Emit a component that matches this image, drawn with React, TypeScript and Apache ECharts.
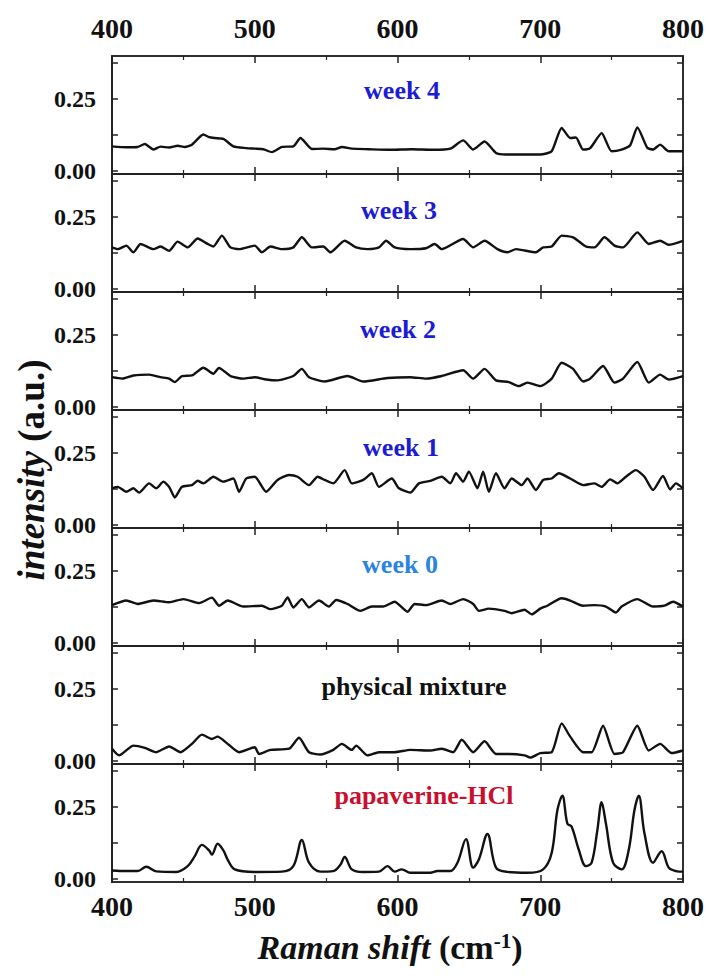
import React, { useEffect, useRef } from "react";
import * as echarts from "echarts";

const panelNames = ["week 4", "week 3", "week 2", "week 1", "week 0", "physical mixture", "papaverine-HCl"];
const panelColors = ["#1c1cd2", "#1c1cd2", "#1c1cd2", "#1c1cd2", "#2a84e0", "#111111", "#c8102e"];
const xTicks = [400, 500, 600, 700, 800];
const yTickLabels = [0, 0.25];
const yTickMarks = [0, 0.125, 0.25, 0.375];

const week4: number[][] = [[400,0.086],[410,0.083],[418,0.084],[423,0.094],[429,0.075],[434,0.085],[440,0.082],[446,0.088],[451,0.084],[456,0.092],[464,0.127],[468,0.118],[472,0.115],[478,0.112],[485,0.086],[494,0.08],[500,0.078],[506,0.076],[512,0.066],[519,0.084],[527,0.086],[532,0.115],[540,0.077],[548,0.078],[556,0.076],[561,0.084],[568,0.078],[580,0.076],[595,0.074],[610,0.076],[625,0.074],[637,0.078],[646,0.107],[653,0.075],[661,0.103],[669,0.063],[676,0.058],[690,0.058],[700,0.058],[708,0.069],[715,0.15],[721,0.115],[725,0.117],[730,0.075],[735,0.08],[743,0.132],[750,0.069],[757,0.075],[763,0.09],[768,0.152],[775,0.081],[779,0.075],[784,0.092],[790,0.069],[800,0.069]];
const week3: number[][] = [[400,0.145],[404,0.139],[410,0.151],[415,0.128],[420,0.157],[429,0.139],[434,0.148],[440,0.133],[446,0.165],[453,0.145],[460,0.176],[467,0.157],[471,0.148],[477,0.186],[483,0.145],[489,0.139],[500,0.151],[505,0.128],[511,0.148],[519,0.139],[527,0.145],[533,0.18],[540,0.145],[548,0.148],[553,0.128],[563,0.168],[571,0.145],[579,0.139],[587,0.145],[592,0.168],[598,0.145],[609,0.139],[620,0.142],[626,0.157],[631,0.139],[646,0.174],[653,0.145],[661,0.168],[670,0.139],[677,0.128],[683,0.139],[697,0.128],[702,0.145],[708,0.148],[715,0.186],[723,0.18],[732,0.148],[738,0.145],[745,0.18],[752,0.151],[758,0.145],[768,0.197],[776,0.157],[784,0.168],[790,0.154],[800,0.168]];
const week2: number[][] = [[400,0.104],[407,0.099],[415,0.11],[426,0.113],[434,0.104],[440,0.099],[444,0.087],[449,0.108],[456,0.11],[464,0.137],[471,0.116],[475,0.136],[483,0.108],[492,0.099],[500,0.104],[508,0.096],[516,0.093],[527,0.108],[533,0.133],[538,0.104],[549,0.089],[565,0.108],[576,0.089],[593,0.101],[609,0.104],[620,0.099],[631,0.108],[646,0.128],[653,0.099],[661,0.133],[669,0.093],[678,0.087],[685,0.073],[691,0.085],[700,0.073],[708,0.099],[715,0.154],[723,0.133],[730,0.089],[735,0.099],[744,0.143],[752,0.085],[758,0.099],[768,0.157],[776,0.085],[784,0.113],[790,0.096],[800,0.108]];
const week1: number[][] = [[400,0.128],[404,0.133],[410,0.116],[415,0.128],[419,0.113],[426,0.145],[431,0.128],[436,0.151],[440,0.133],[444,0.096],[449,0.133],[456,0.139],[460,0.154],[464,0.145],[471,0.168],[478,0.151],[485,0.162],[489,0.116],[494,0.162],[500,0.168],[508,0.116],[516,0.157],[524,0.174],[530,0.168],[538,0.139],[544,0.168],[549,0.157],[555,0.145],[563,0.191],[568,0.145],[576,0.157],[582,0.18],[587,0.133],[596,0.162],[601,0.128],[609,0.113],[615,0.145],[623,0.154],[631,0.168],[637,0.145],[641,0.18],[646,0.151],[650,0.186],[656,0.128],[660,0.186],[664,0.116],[669,0.18],[675,0.128],[680,0.162],[687,0.139],[691,0.162],[697,0.122],[702,0.157],[708,0.162],[713,0.18],[721,0.162],[730,0.139],[738,0.145],[743,0.133],[749,0.159],[754,0.145],[760,0.168],[767,0.191],[773,0.168],[779,0.122],[786,0.171],[791,0.124],[795,0.145],[800,0.128]];
const week0: number[][] = [[400,0.132],[410,0.148],[418,0.136],[429,0.148],[440,0.142],[450,0.153],[461,0.139],[470,0.158],[475,0.13],[481,0.148],[492,0.127],[505,0.13],[511,0.118],[519,0.13],[523,0.159],[527,0.124],[533,0.153],[538,0.124],[545,0.148],[552,0.127],[557,0.15],[565,0.136],[574,0.112],[582,0.127],[590,0.127],[598,0.144],[607,0.109],[612,0.136],[620,0.132],[631,0.148],[637,0.136],[646,0.153],[653,0.136],[657,0.112],[664,0.12],[675,0.112],[680,0.104],[689,0.116],[694,0.1],[700,0.12],[705,0.13],[715,0.156],[721,0.148],[730,0.13],[738,0.132],[746,0.127],[753,0.106],[757,0.127],[768,0.153],[779,0.127],[787,0.13],[793,0.144],[800,0.127]];
const physicalMixture: number[][] = [[400,0.043],[405,0.02],[415,0.054],[423,0.046],[431,0.031],[440,0.051],[448,0.031],[456,0.06],[463,0.092],[470,0.077],[474,0.085],[481,0.06],[489,0.031],[500,0.048],[503,0.025],[511,0.039],[524,0.043],[531,0.081],[538,0.031],[546,0.023],[555,0.039],[561,0.06],[568,0.039],[571,0.054],[579,0.02],[587,0.031],[598,0.031],[609,0.039],[623,0.037],[631,0.043],[639,0.031],[645,0.074],[653,0.031],[661,0.069],[669,0.025],[678,0.025],[689,0.02],[693,0.012],[700,0.028],[708,0.031],[715,0.131],[721,0.085],[730,0.031],[736,0.031],[744,0.123],[752,0.025],[758,0.031],[768,0.123],[776,0.037],[784,0.06],[792,0.028],[800,0.037]];
const papaverine: number[][] = [[400,0.03],[410,0.028],[418,0.028],[424,0.043],[431,0.027],[445,0.025],[453,0.045],[458,0.08],[463,0.119],[468,0.1],[470,0.085],[474,0.123],[478,0.1],[481,0.068],[486,0.034],[500,0.025],[519,0.026],[527,0.045],[533,0.136],[538,0.057],[546,0.026],[555,0.028],[560,0.05],[563,0.077],[568,0.034],[576,0.025],[587,0.026],[593,0.045],[598,0.026],[603,0.034],[609,0.022],[623,0.022],[628,0.028],[637,0.028],[642,0.057],[648,0.139],[653,0.04],[657,0.068],[663,0.157],[669,0.04],[677,0.025],[691,0.022],[702,0.034],[708,0.091],[712,0.239],[715.5,0.29],[719,0.193],[722,0.182],[727,0.102],[732,0.045],[736,0.057],[740,0.17],[743,0.267],[746,0.193],[751,0.057],[757,0.034],[762,0.102],[766,0.24],[769,0.29],[773,0.159],[779,0.057],[785,0.097],[790,0.04],[795,0.028],[800,0.026]];

const panelData = [week4, week3, week2, week1, week0, physicalMixture, papaverine];

const FONT = "Liberation Serif, Times New Roman, serif";
const LEFT = 112;
const WIDTH = 571;
const TOP = 56;
const PANEL_H = 118;
const labelOffsets = [34, 36, 37, 37, 36, 40, 31];
const labelX = [402, 399, 398, 401, 400, 414, 424];

export default function App() {
  const ref = useRef<HTMLDivElement>(null);
  useEffect(() => {
    if (!ref.current) return;
    const chart = echarts.init(ref.current, null, { renderer: "svg" });
    const grids: any[] = [];
    const xAxes: any[] = [];
    const yAxes: any[] = [];
    const series: any[] = [];
    const graphics: any[] = [];
    const lineCol = "#222";
    panelData.forEach((d, i) => {
      const top = TOP + i * PANEL_H;
      grids.push({ left: LEFT, width: WIDTH, top, height: PANEL_H, show: true, borderColor: lineCol, borderWidth: 1.5, backgroundColor: "transparent" });
      ["bottom", "top"].forEach((pos) => {
        const showLabel = (pos === "bottom" && i === panelData.length - 1) || (pos === "top" && i === 0);
        xAxes.push({
          gridIndex: i, type: "value", position: pos, min: xTicks[0], max: xTicks[xTicks.length - 1], interval: 100,
          axisLine: { show: true, onZero: false, lineStyle: { color: lineCol, width: 1.5 } },
          axisTick: { show: true, inside: true, length: 7, lineStyle: { color: lineCol, width: 1.5 } },
          minorTick: { show: true, splitNumber: 2, length: 4, lineStyle: { color: lineCol, width: 1.2 } },
          splitLine: { show: false },
          axisLabel: { show: showLabel, margin: pos === "top" ? 14 : 10, fontFamily: FONT, fontWeight: "bold", fontSize: 28, color: "#111" },
        });
      });
      ["left", "right"].forEach((pos) => {
        yAxes.push({
          gridIndex: i, type: "value", position: pos, min: -0.01, max: 0.4,
          axisLine: { show: true, onZero: false, lineStyle: { color: lineCol, width: pos === "left" ? 2 : 1.5 } },
          axisTick: { show: true, inside: true, length: 6, customValues: yTickMarks, lineStyle: { color: lineCol, width: 1.5 } },
          splitLine: { show: false },
          axisLabel: { show: pos === "left", customValues: yTickLabels, margin: 16, fontFamily: FONT, fontWeight: "bold", fontSize: 24, color: "#111", formatter: (v: number) => v.toFixed(2) },
        });
      });
      series.push({
        type: "line", xAxisIndex: i * 2, yAxisIndex: i * 2, data: d, showSymbol: false, symbol: "none",
        smooth: i === panelData.length - 1 ? 0.35 : 0.2,
        lineStyle: { color: "#111", width: 2.4 },
      });
      graphics.push({
        type: "text", x: labelX[i], y: top + labelOffsets[i],
        style: { text: panelNames[i], fill: panelColors[i], font: `bold 26px ${FONT}`, align: "center", verticalAlign: "middle" },
      });
    });
    graphics.push({
      type: "text", x: 31, y: 470, rotation: Math.PI / 2,
      style: {
        text: "{i|intensity }{b|(a.u.)}", align: "center", verticalAlign: "middle",
        rich: {
          i: { fontFamily: FONT, fontStyle: "italic", fontWeight: "bold", fontSize: 37, fill: "#111" },
          b: { fontFamily: FONT, fontWeight: "bold", fontSize: 37, fill: "#111" },
        },
      },
    });
    graphics.push({
      type: "text", x: 390, y: 947,
      style: {
        text: "{i|Raman shift }{b|(cm}{s|-1}{b|)}", align: "center", verticalAlign: "middle",
        rich: {
          i: { fontFamily: FONT, fontStyle: "italic", fontWeight: "bold", fontSize: 34, fill: "#111" },
          b: { fontFamily: FONT, fontWeight: "bold", fontSize: 34, fill: "#111" },
          s: { fontFamily: FONT, fontWeight: "bold", fontSize: 21, fill: "#111", verticalAlign: "top" },
        },
      },
    });
    chart.setOption({
      animation: false,
      backgroundColor: "#fff",
      grid: grids,
      xAxis: xAxes,
      yAxis: yAxes,
      series,
      graphic: graphics,
    });
    return () => chart.dispose();
  }, []);
  return <div ref={ref} style={{ position: "fixed", left: 0, top: 0, width: 710, height: 976 }} />;
}
